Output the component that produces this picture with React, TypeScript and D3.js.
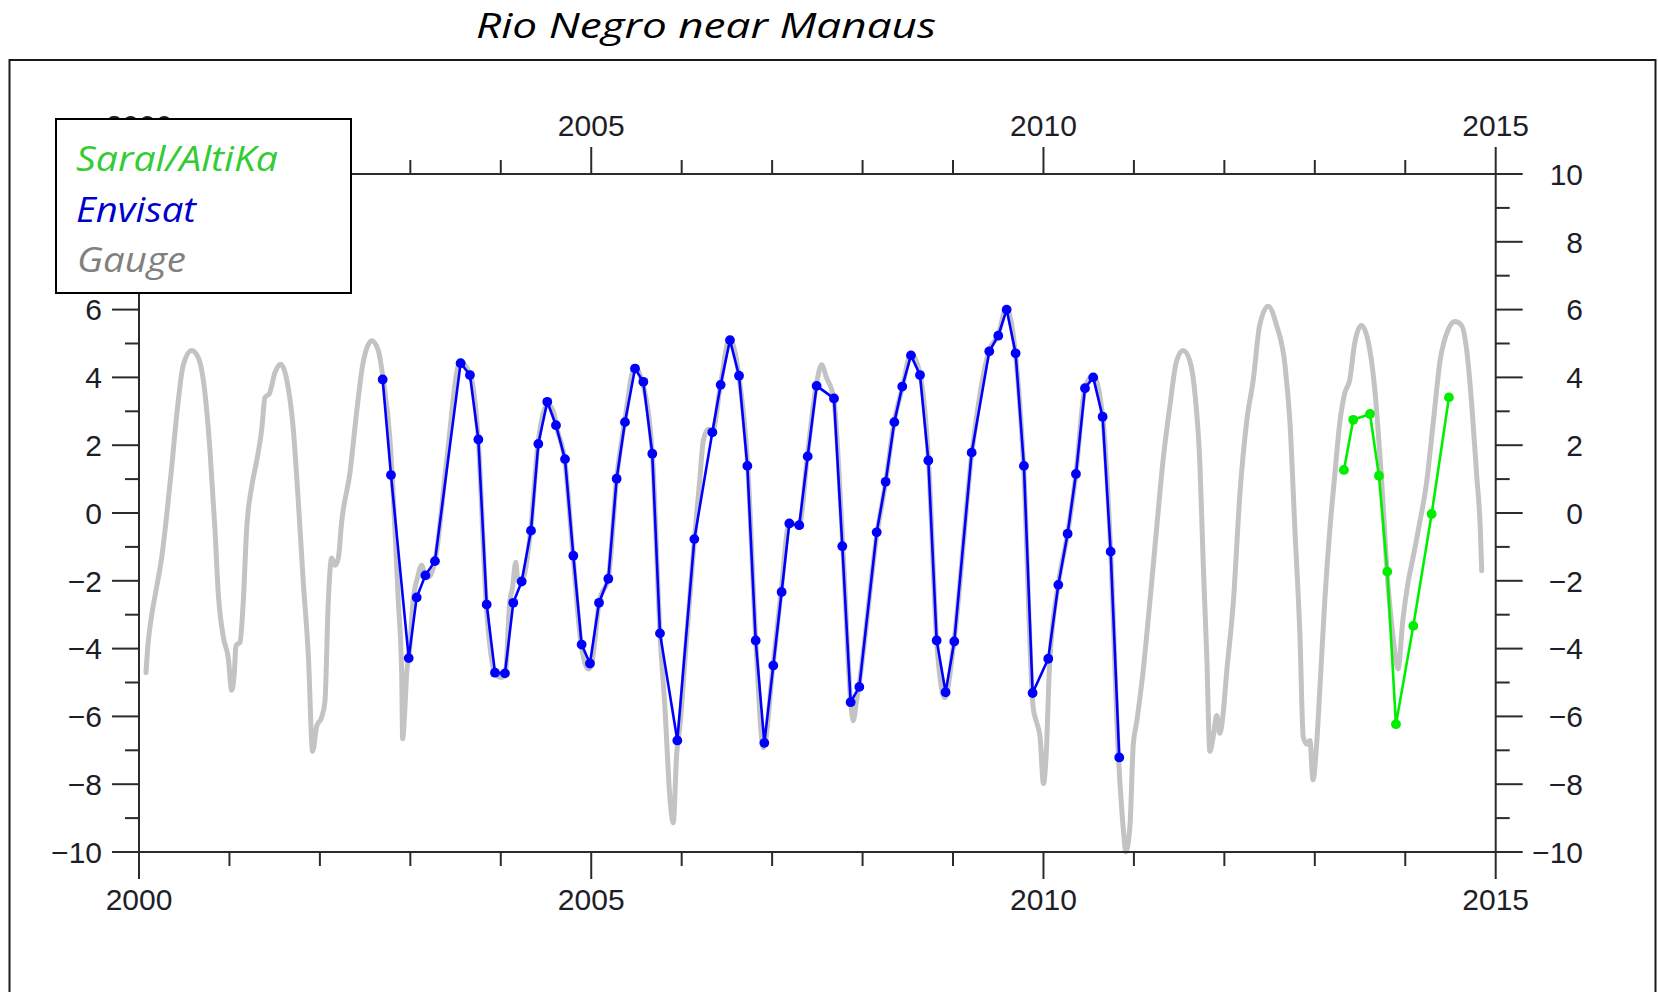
import React from "react";
import * as d3 from "d3";

// ---------- DATA ----------
const title = "Rio Negro near Manaus";
const legendLabels = ["Saral/AltiKa", "Envisat", "Gauge"];

const xMajorTicks = [2000, 2005, 2010, 2015];
const xTickLabels = ["2000", "2005", "2010", "2015"];
const yMajorTicks = [-10, -8, -6, -4, -2, 0, 2, 4, 6, 8, 10];
const yTickLabels = ["\u221210", "\u22128", "\u22126", "\u22124", "\u22122", "0", "2", "4", "6", "8", "10"];
// left-axis labels hidden under the legend box in the original
const yLeftHidden = [8, 10];

// Envisat altimetry (decimal year, stage anomaly m)
const envisatYears = [
  2002.694, 2002.786, 2002.982, 2003.07, 2003.166, 2003.272, 2003.556, 2003.659, 2003.752, 2003.844,
  2003.936, 2004.046, 2004.138, 2004.231, 2004.334, 2004.415, 2004.514, 2004.61, 2004.71, 2004.802,
  2004.894, 2004.986, 2005.086, 2005.189, 2005.281, 2005.373, 2005.484, 2005.576, 2005.675, 2005.76,
  2005.952, 2006.14, 2006.339, 2006.431, 2006.534, 2006.634, 2006.726, 2006.818, 2006.914, 2007.013,
  2007.105, 2007.19, 2007.3, 2007.393, 2007.492, 2007.684, 2007.776, 2007.868, 2007.964, 2008.156,
  2008.255, 2008.351, 2008.439, 2008.535, 2008.635, 2008.727, 2008.819, 2008.918, 2009.014, 2009.206,
  2009.401, 2009.5, 2009.593, 2009.692, 2009.784, 2009.88, 2010.053, 2010.164, 2010.267, 2010.359,
  2010.459, 2010.55, 2010.654, 2010.743, 2010.838,
];
const envisatValues = [
  3.94, 1.12, -4.28, -2.49, -1.84, -1.42, 4.42, 4.07, 2.17, -2.7,
  -4.71, -4.73, -2.65, -2.02, -0.52, 2.04, 3.28, 2.59, 1.59, -1.26,
  -3.88, -4.44, -2.65, -1.94, 1.01, 2.68, 4.26, 3.87, 1.75, -3.55,
  -6.71, -0.77, 2.38, 3.78, 5.1, 4.05, 1.39, -3.76, -6.78, -4.5,
  -2.33, -0.31, -0.36, 1.67, 3.75, 3.38, -0.98, -5.58, -5.13, -0.57,
  0.92, 2.68, 3.73, 4.65, 4.07, 1.55, -3.76, -5.29, -3.79, 1.78,
  4.77, 5.23, 6.0, 4.71, 1.39, -5.31, -4.3, -2.12, -0.61, 1.15,
  3.68, 4.0, 2.84, -1.14, -7.21,
];

// Saral/AltiKa altimetry
const saralYears = [2013.322, 2013.425, 2013.61, 2013.709, 2013.801, 2013.897, 2014.089, 2014.292, 2014.483];
const saralValues = [1.27, 2.75, 2.92, 1.1, -1.73, -6.23, -3.33, -0.03, 3.41];

// Gauge record (decimal year, stage anomaly m)
const gaugeYears = [
  2000.077, 2000.1, 2000.14, 2000.196, 2000.25, 2000.306, 2000.36, 2000.417, 2000.49, 2000.583,
  2000.656, 2000.73, 2000.785, 2000.84, 2000.877, 2000.932, 2000.987, 2001.025, 2001.054, 2001.072,
  2001.117, 2001.153, 2001.19, 2001.246, 2001.3, 2001.357, 2001.393, 2001.441, 2001.504, 2001.567,
  2001.633, 2001.706, 2001.761, 2001.817, 2001.872, 2001.92, 2001.965, 2002.02, 2002.056, 2002.093,
  2002.13, 2002.167, 2002.204, 2002.24, 2002.333, 2002.407, 2002.48, 2002.573, 2002.646, 2002.7,
  2002.775, 2002.83, 2002.867, 2002.904, 2002.915, 2002.94, 2002.96, 2002.99, 2003.03, 2003.08,
  2003.125, 2003.17, 2003.217, 2003.28, 2003.4, 2003.55, 2003.66, 2003.75, 2003.84, 2003.94,
  2004.0, 2004.05, 2004.1, 2004.13, 2004.165, 2004.19, 2004.23, 2004.33, 2004.41, 2004.52,
  2004.58, 2004.62, 2004.71, 2004.8, 2004.89, 2004.97, 2005.0, 2005.09, 2005.19, 2005.28,
  2005.37, 2005.48, 2005.56, 2005.675, 2005.76, 2005.815, 2005.87, 2005.907, 2005.944, 2005.98,
  2006.055, 2006.13, 2006.2, 2006.24, 2006.295, 2006.34, 2006.43, 2006.53, 2006.63, 2006.73,
  2006.82, 2006.904, 2007.01, 2007.1, 2007.19, 2007.3, 2007.39, 2007.49, 2007.547, 2007.6,
  2007.68, 2007.78, 2007.87, 2007.897, 2007.93, 2007.96, 2008.16, 2008.255, 2008.35, 2008.44,
  2008.535, 2008.635, 2008.73, 2008.82, 2008.91, 2009.01, 2009.21, 2009.4, 2009.5, 2009.59,
  2009.69, 2009.78, 2009.887, 2009.925, 2009.962, 2010.0, 2010.03, 2010.067, 2010.164, 2010.267,
  2010.359, 2010.459, 2010.55, 2010.654, 2010.743, 2010.83, 2010.865, 2010.89, 2010.91, 2010.956,
  2010.993, 2011.03, 2011.1, 2011.177, 2011.25, 2011.325, 2011.4, 2011.47, 2011.545, 2011.62,
  2011.675, 2011.73, 2011.767, 2011.805, 2011.84, 2011.877, 2011.915, 2011.95, 2011.98, 2012.025,
  2012.1, 2012.172, 2012.246, 2012.32, 2012.39, 2012.485, 2012.578, 2012.67, 2012.725, 2012.78,
  2012.836, 2012.872, 2012.91, 2012.946, 2012.98, 2013.02, 2013.055, 2013.11, 2013.166, 2013.22,
  2013.277, 2013.33, 2013.387, 2013.44, 2013.514, 2013.587, 2013.66, 2013.735, 2013.808, 2013.865,
  2013.92, 2013.975, 2014.03, 2014.085, 2014.16, 2014.235, 2014.31, 2014.384, 2014.476, 2014.55,
  2014.623, 2014.68, 2014.735, 2014.79, 2014.83, 2014.845,
];
const gaugeValues = [
  -4.71, -3.86, -3.02, -2.17, -1.33, -0.07, 1.31, 2.89, 4.37, 4.79,
  4.58, 3.52, 1.83, -0.49, -2.39, -3.65, -4.28, -5.23, -4.71, -3.91,
  -3.81, -2.6, -0.49, 0.78, 1.52, 2.47, 3.41, 3.52, 4.15, 4.39,
  3.94, 2.47, 0.36, -2.07, -4.18, -7.03, -6.29, -6.02, -5.55, -2.6,
  -1.33, -1.54, -1.33, -0.28, 1.2, 2.99, 4.47, 5.08, 4.79, 3.94,
  2.15, -0.49, -2.6, -4.71, -6.66, -5.76, -4.71, -4.1, -2.6, -1.9,
  -1.54, -1.9, -1.86, -1.3, 1.5, 4.45, 4.1, 2.2, -2.7, -4.75,
  -4.85, -4.75, -2.6, -2.2, -1.45, -2.0, -2.0, -0.5, 2.0, 3.2,
  3.0, 2.5, 1.5, -1.3, -3.9, -4.6, -4.5, -2.6, -1.9, 1.0,
  2.7, 4.3, 3.9, 1.75, -3.55, -5.76, -8.4, -9.14, -7.13, -6.29,
  -3.65, -1.12, 0.99, 2.15, 2.47, 2.4, 3.8, 5.15, 4.1, 1.4,
  -3.8, -6.92, -4.5, -2.3, -0.3, -0.35, 1.7, 3.8, 4.37, 4.0,
  3.4, -0.9, -5.6, -6.13, -5.6, -5.1, -0.6, 0.9, 2.7, 3.7,
  4.7, 4.1, 1.5, -3.8, -5.45, -3.8, 1.8, 4.8, 5.25, 6.05,
  4.7, 1.4, -5.76, -6.18, -6.6, -7.98, -7.13, -4.5, -2.1, -0.6,
  1.15, 3.7, 4.05, 2.85, -1.1, -7.24, -8.72, -9.55, -10.0, -9.24,
  -6.82, -6.18, -4.71, -2.6, -0.49, 1.62, 3.2, 4.47, 4.79, 4.47,
  3.52, 1.41, -1.54, -4.18, -7.03, -6.6, -5.97, -6.5, -6.08, -4.71,
  -2.6, 0.57, 2.68, 3.94, 5.53, 6.1, 5.53, 4.37, 2.68, -0.49,
  -3.65, -6.6, -6.82, -6.71, -7.87, -6.82, -5.23, -2.6, -0.49, 1.1,
  2.68, 3.52, 3.94, 5.0, 5.53, 5.1, 3.73, 1.1, -2.07, -3.65,
  -4.6, -3.12, -2.07, -1.33, -0.28, 0.88, 2.68, 4.47, 5.42, 5.65,
  5.53, 4.79, 3.2, 1.1, -0.49, -1.7,
];

// ---------- CHART ----------
const W = 1658;
const H = 992;
const PL = 139;
const PR = 1495.7;
const PT = 174;
const PB = 852;

const x = d3.scaleLinear().domain([2000, 2015]).range([PL, PR]);
const y = d3.scaleLinear().domain([-10, 10]).range([PB, PT]);

const axisColor = "#2b2b2b";
const labelColor = "#1e1e28";
const tickFont = "'Liberation Sans', Arial, sans-serif";
const textFont = "'Open Sans', 'Noto Sans', sans-serif";

type P = [number, number];

export default function App() {
  const gauge: P[] = gaugeYears.map((t, i) => [t, gaugeValues[i]]);
  const envisat: P[] = envisatYears.map((t, i) => [t, envisatValues[i]]);
  const saral: P[] = saralYears.map((t, i) => [t, saralValues[i]]);

  const smooth = d3
    .line<P>()
    .x((d) => x(d[0]))
    .y((d) => y(d[1]))
    .curve(d3.curveMonotoneX);
  const straight = d3
    .line<P>()
    .x((d) => x(d[0]))
    .y((d) => y(d[1]));

  const xMinor = d3.range(2000, 2016);
  const yMinor = d3.range(-10, 11);
  const majLen = 27;
  const minLen = 14;

  return (
    <svg
      width={W}
      height={H}
      style={{ position: "absolute", left: 0, top: 0, background: "#fff" }}
    >
      <rect x={0} y={0} width={W} height={H} fill="#fff" />
      {/* title */}
      <text
        x={476}
        y={38}
        fontFamily={textFont}
        fontStyle="italic"
        fontSize={35}
        fill="#000"
        textLength={460}
        lengthAdjust="spacingAndGlyphs"
      >
        {title}
      </text>

      {/* outer frame */}
      <path d={`M9.5,${H + 5} V60 H1655.5 V${H + 5}`} fill="none" stroke="#1a1a1a" strokeWidth={2} />

      {/* gauge */}
      <path d={smooth(gauge) || ""} fill="none" stroke="#c3c3c3" strokeWidth={5} strokeLinejoin="round" strokeLinecap="round" />

      {/* envisat */}
      <path d={straight(envisat) || ""} fill="none" stroke="#0000ff" strokeWidth={2.6} strokeLinejoin="round" />
      {envisat.map((d, i) => (
        <circle key={"e" + i} cx={x(d[0])} cy={y(d[1])} r={4.9} fill="#0000ff" />
      ))}

      {/* saral */}
      <path d={straight(saral) || ""} fill="none" stroke="#00ee00" strokeWidth={2.6} strokeLinejoin="round" />
      {saral.map((d, i) => (
        <circle key={"s" + i} cx={x(d[0])} cy={y(d[1])} r={4.9} fill="#00ee00" />
      ))}

      {/* plot box */}
      <rect x={PL} y={PT} width={PR - PL} height={PB - PT} fill="none" stroke={axisColor} strokeWidth={2} />

      {/* x ticks bottom & top */}
      {xMinor.map((t) => {
        const len = xMajorTicks.includes(t) ? majLen : minLen;
        return (
          <g key={"xt" + t}>
            <line x1={x(t)} x2={x(t)} y1={PB} y2={PB + len} stroke={axisColor} strokeWidth={2} />
            <line x1={x(t)} x2={x(t)} y1={PT} y2={PT - len} stroke={axisColor} strokeWidth={2} />
          </g>
        );
      })}
      {/* y ticks left & right */}
      {yMinor.map((v) => {
        const len = yMajorTicks.includes(v) ? majLen : minLen;
        return (
          <g key={"yt" + v}>
            <line x1={PL} x2={PL - len} y1={y(v)} y2={y(v)} stroke={axisColor} strokeWidth={2} />
            <line x1={PR} x2={PR + len} y1={y(v)} y2={y(v)} stroke={axisColor} strokeWidth={2} />
          </g>
        );
      })}

      {/* tick labels */}
      {xMajorTicks.map((t, i) => (
        <g key={"xl" + t} fontFamily={tickFont} fontSize={30} fill={labelColor} textAnchor="middle">
          <text x={x(t)} y={910}>{xTickLabels[i]}</text>
          <text x={x(t)} y={136}>{xTickLabels[i]}</text>
        </g>
      ))}
      {yMajorTicks.map((v, i) => (
        <g key={"yl" + v} fontFamily={tickFont} fontSize={30} fill={labelColor} textAnchor="end">
          {!yLeftHidden.includes(v) && (
            <text x={102} y={y(v)} dy="0.36em">{yTickLabels[i]}</text>
          )}
          <text x={1583} y={y(v)} dy="0.36em">{yTickLabels[i]}</text>
        </g>
      ))}

      {/* legend */}
      <rect x={56} y={119} width={295} height={174} fill="#fff" stroke="#000" strokeWidth={2} />
      <g fontFamily={textFont} fontStyle="italic" fontSize={35}>
        <text x={76} y={171} fill="#33cc33" textLength={202} lengthAdjust="spacingAndGlyphs">{legendLabels[0]}</text>
        <text x={76} y={222} fill="#0000cc" textLength={120} lengthAdjust="spacingAndGlyphs">{legendLabels[1]}</text>
        <text x={77} y={272} fill="#808080" textLength={109} lengthAdjust="spacingAndGlyphs">{legendLabels[2]}</text>
      </g>
    </svg>
  );
}
